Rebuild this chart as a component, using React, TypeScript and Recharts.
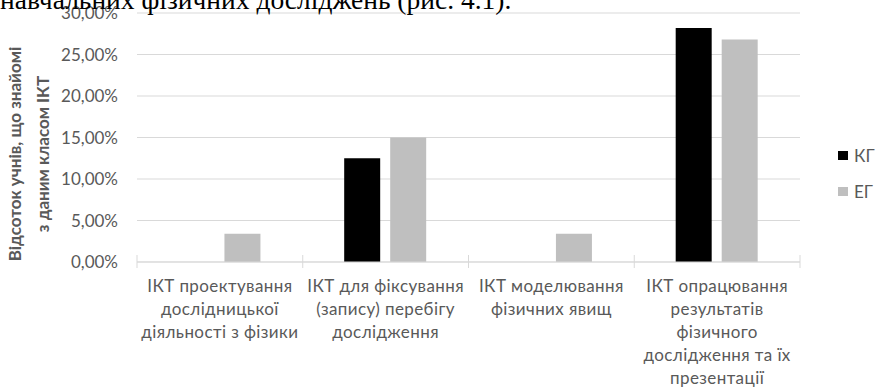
import { Bar, BarChart, CartesianGrid, Legend, XAxis, YAxis } from 'recharts';

const categories = [
  ['ІКТ проектування', 'дослідницької', 'діяльності з фізики'],
  ['ІКТ для фіксування', '(запису) перебігу', 'дослідження'],
  ['ІКТ моделювання', 'фізичних явищ'],
  ['ІКТ опрацювання', 'результатів', 'фізичного', 'дослідження та їх', 'презентації'],
];
const kgValues = [0, 12.5, 0, 28.2];
const egValues = [3.4, 15.0, 3.4, 26.8];
const yTicks = [0, 5, 10, 15, 20, 25, 30];
const seriesNames = ['КГ', 'ЕГ'];

const W = 875;
const H = 390;
const zeroY = 262;
const margin = { top: 13, right: 75, bottom: 0, left: 0 };
const yAxisWidth = 137;
const bandWidth = (W - margin.left - margin.right - yAxisWidth) / categories.length;

const textColor = '#595959';
const gridColor = '#d9d9d9';
const font = 'Lato, "Open Sans", sans-serif';

const data = categories.map((lines, i) => ({
  name: lines.join(' '),
  kg: kgValues[i],
  eg: egValues[i],
}));

function CategoryTick(props: any) {
  const { x, y, index } = props;
  const lines = categories[index] ?? [];
  const half = bandWidth / 2;
  const isLast = index === categories.length - 1;
  return (
    <g>
      <line x1={x - half} x2={x - half} y1={y - 7} y2={y + 6} stroke={gridColor} />
      {isLast && <line x1={x + half} x2={x + half} y1={y - 7} y2={y + 6} stroke={gridColor} />}
      <text textAnchor="middle" fill={textColor} fontSize={17} fontFamily={font} letterSpacing={0.4}>
        {lines.map((line, i) => (
          <tspan key={i} x={x} y={y + 30 + i * 23}>
            {line}
          </tspan>
        ))}
      </text>
    </g>
  );
}

function LegendContent(props: any) {
  const payload = [...(props.payload ?? [])].sort(
    (a: any, b: any) => seriesNames.indexOf(a.value) - seriesNames.indexOf(b.value),
  );
  return (
    <div style={{ fontFamily: font, fontSize: 17, color: textColor }}>
      {payload.map((entry: any) => (
        <div key={entry.value} style={{ display: 'flex', alignItems: 'center', height: 20, marginBottom: 16 }}>
          <span style={{ width: 10, height: 9, background: entry.color, marginRight: 6, display: 'inline-block' }} />
          {entry.value}
        </div>
      ))}
    </div>
  );
}

export default function App() {
  return (
    <div style={{ position: 'absolute', left: 0, top: 0, width: W, height: H, overflow: 'hidden', background: '#fff' }}>
      <BarChart
        width={W}
        height={H}
        data={data}
        margin={margin}
        barCategoryGap="25%"
        barGap={10}
      >
        <CartesianGrid vertical={false} stroke={gridColor} />
        <XAxis
          dataKey="name"
          height={H - zeroY - margin.bottom}
          axisLine={{ stroke: gridColor }}
          tickLine={false}
          tickSize={0}
          tickMargin={0}
          interval={0}
          tick={<CategoryTick />}
        />
        <YAxis
          width={yAxisWidth}
          domain={[0, 30]}
          ticks={yTicks}
          axisLine={false}
          tickLine={false}
          tickSize={0}
          tickMargin={19}
          tick={{ fill: textColor, fontSize: 17, fontFamily: font }}
          tickFormatter={(v: number) => `${v.toFixed(2).replace('.', ',')}%`}
        />
        <Legend
          layout="vertical"
          align="center"
          verticalAlign="middle"
          content={<LegendContent />}
          wrapperStyle={{ position: 'absolute', left: 838, top: 145, width: 40 }}
        />
        <Bar dataKey="kg" name={seriesNames[0]} fill="#000000" isAnimationActive={false} />
        <Bar dataKey="eg" name={seriesNames[1]} fill="#bfbfbf" isAnimationActive={false} />
      </BarChart>
      <svg width={W} height={H} style={{ position: 'absolute', left: 0, top: 0, pointerEvents: 'none' }}>
        <text x={0} y={8.5} fontFamily='"Liberation Serif", serif' fontSize={27.5} fill="#000">
          навчальних фізичних досліджень (рис. 4.1).
        </text>
        <g fontFamily={font} fontSize={17} fontWeight="bold" fill={textColor} textAnchor="middle">
          <text transform="translate(21,154) rotate(-90)">Відсоток учнів, що знайомі</text>
          <text transform="translate(49,154) rotate(-90)">з даним класом ІКТ</text>
        </g>
      </svg>
    </div>
  );
}
